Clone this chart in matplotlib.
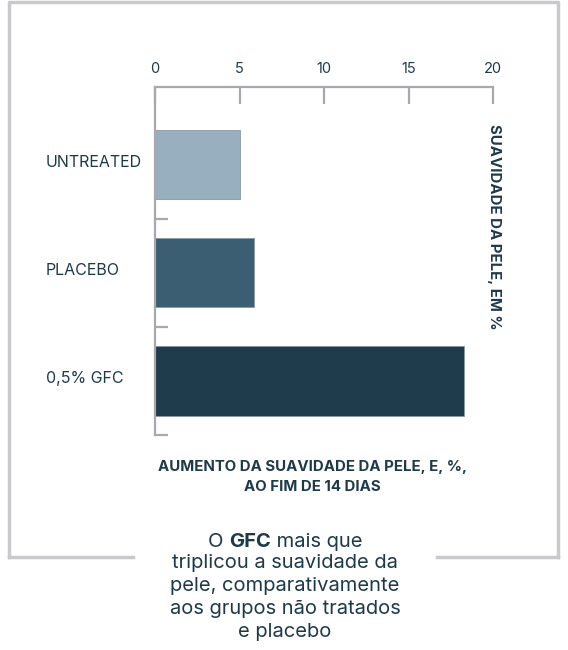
import matplotlib
matplotlib.use("Agg")
import matplotlib.pyplot as plt
import matplotlib.transforms as mtransforms
from matplotlib.lines import Line2D

# dados
categories = ["UNTREATED", "PLACEBO", "0,5% GFC"]
values = [5.05, 5.85, 18.3]
bar_colors = ["#97afbf", "#3b5e72", "#1e3c4b"]
xticks = [0, 5, 10, 15, 20]

text_col = "#1d3a4a"
axis_col = "#a9a9ad"
frame_col = "#c9c9cd"
plt.rcParams["font.family"] = ["Inter", "DejaVu Sans"]

W, H = 568, 650
fig = plt.figure(figsize=(W / 100, H / 100), dpi=100)


def px(x0, y0, x1, y1):
    return [x0 / W, 1 - y1 / H, (x1 - x0) / W, (y1 - y0) / H]


ax = fig.add_axes(px(155, 87, 493, 435))
ypos = list(range(len(categories)))
ax.barh(ypos, values, height=0.64, color=bar_colors, edgecolor="#8a98a2",
        linewidth=0.6, zorder=2)
ax.set_xlim(0, 20)
ax.set_ylim(2.5, -0.72)

for s in ["right", "bottom"]:
    ax.spines[s].set_visible(False)
for s in ["top", "left"]:
    ax.spines[s].set_color(axis_col)
    ax.spines[s].set_linewidth(1.6)

ax.xaxis.tick_top()
ax.set_xticks(xticks)
ax.set_xticklabels([str(t) for t in xticks])
ax.tick_params(axis="x", direction="in", length=12, width=1.6, color=axis_col,
               labelsize=10.5, labelcolor=text_col, pad=8)
ax.set_yticks([i + 0.5 for i in ypos])
ax.set_yticklabels([])
ax.tick_params(axis="y", direction="in", length=9.5, width=1.6, color=axis_col)

# rótulos das categorias
tr = mtransforms.blended_transform_factory(fig.transFigure, ax.transData)
for i, c in enumerate(categories):
    fig.text(46 / W, i - 0.02, c, transform=tr, ha="left", va="center",
             fontsize=11.5, color=text_col)

fig.text(494 / W, 1 - 227 / H, "SUAVIDADE DA PELE, EM %", rotation=-90,
         ha="center", va="center", fontsize=10.8, fontweight="bold", color=text_col)

fig.text(312 / W, 1 - 477 / H, "AUMENTO DA SUAVIDADE DA PELE, E, %,\nAO FIM DE 14 DIAS",
         ha="center", va="center", fontsize=10.8, fontweight="bold", color=text_col,
         linespacing=1.6)

# moldura com abertura em baixo
lw = 2.5
fig.add_artist(Line2D([9 / W, 9 / W, 558 / W, 558 / W], [1 - 557 / H, 1 - 2 / H, 1 - 2 / H, 1 - 557 / H],
                      color=frame_col, lw=lw, transform=fig.transFigure))
fig.add_artist(Line2D([9 / W, 133 / W], [1 - 557 / H] * 2, color=frame_col, lw=lw,
                      transform=fig.transFigure))
fig.add_artist(Line2D([437 / W, 558 / W], [1 - 557 / H] * 2, color=frame_col, lw=lw,
                      transform=fig.transFigure))

# legenda de baixo
cx = 285 / W
fs = 14.5
lines = ["triplicou a suavidade da", "pele, comparativamente",
         "aos grupos não tratados", "e placebo"]
ys = [563, 586, 609, 632]
for t, y in zip(lines, ys):
    fig.text(cx, 1 - y / H, t, ha="center", va="center", fontsize=fs, color=text_col)

parts = [("O ", "normal"), ("GFC", "bold"), (" mais que", "normal")]
r = fig.canvas.get_renderer()
widths = []
for t, w in parts:
    tt = fig.text(0, 0, t, fontsize=fs, fontweight=w)
    widths.append(tt.get_window_extent(r).width)
    tt.remove()
x = cx * W - sum(widths) / 2
for (t, w), wd in zip(parts, widths):
    fig.text(x / W, 1 - 542 / H, t, ha="left", va="center", fontsize=fs,
             fontweight=w, color=text_col)
    x += wd

fig.savefig("out.png", dpi=100)
